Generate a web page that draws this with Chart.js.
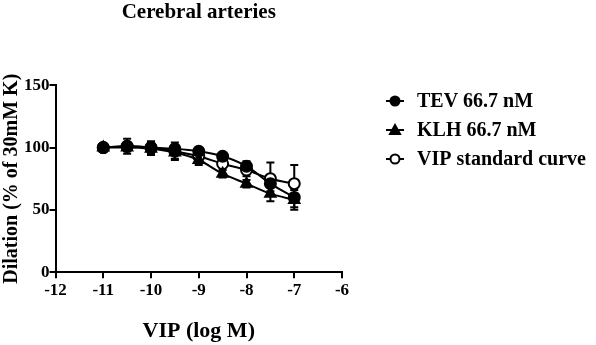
<!DOCTYPE html>
<html lang="en">
<head>
  <meta charset="UTF-8">
  <script src="https://cdn.jsdelivr.net/npm/chart.js"></script>
  <title>Cerebral arteries</title>
  <style>
    body { margin: 0; background: #fff; }
    #wrap { width: 596px; height: 345px; }
  </style>
</head>
<body>
<div id="wrap"><canvas id="vipChart"></canvas></div>
<script>
  // data
  const logDose = [-11, -10.5, -10, -9.5, -9, -8.5, -8, -7.5, -7];
  const xTicks = [-12, -11, -10, -9, -8, -7, -6];
  const yTicks = [0, 50, 100, 150];

  const tevMean = [100, 101, 100, 99, 97, 93, 85, 71, 60];
  const tevErr  = [0, 3, 4, 3, 3, 2, 4, 6, 8];
  const klhMean = [100, 100, 99, 96, 90, 79, 71, 63, 58];
  const klhErr  = [0, 3, 5, 5, 4, 3, 3, 6, 8];
  const vipMean = [100, 101, 100, 97, 93, 87, 82, 75, 71];
  const vipErr  = [0, 6, 5, 7, 4, 3, 5, 13, 15];

  const FONT = '"Liberation Serif", "Times New Roman", serif';

  function toPoints(mean) {
    return logDose.map((x, i) => ({ x: x, y: mean[i] }));
  }

  const seriesInfo = [
    { label: 'TEV 66.7 nM', mean: tevMean, err: tevErr, style: 'circle', fill: '#000' },
    { label: 'KLH 66.7 nM', mean: klhMean, err: klhErr, style: 'triangle', fill: '#000' },
    { label: 'VIP standard curve', mean: vipMean, err: vipErr, style: 'circle', fill: '#fff' }
  ];

  // error bars drawn through the scales
  const errorBars = {
    id: 'errorBars',
    beforeDatasetsDraw(chart) {
      const ctx = chart.ctx;
      const xs = chart.scales.x, ys = chart.scales.y;
      ctx.save();
      ctx.strokeStyle = '#000';
      ctx.lineWidth = 2;
      seriesInfo.forEach(s => {
        logDose.forEach((d, i) => {
          if (!s.err[i]) return;
          const px = xs.getPixelForValue(d);
          const top = ys.getPixelForValue(s.mean[i] + s.err[i]);
          const bot = ys.getPixelForValue(s.mean[i] - s.err[i]);
          ctx.beginPath();
          ctx.moveTo(px, top); ctx.lineTo(px, bot);
          ctx.moveTo(px - 4, top); ctx.lineTo(px + 4, top);
          ctx.moveTo(px - 4, bot); ctx.lineTo(px + 4, bot);
          ctx.stroke();
        });
      });
      ctx.restore();
    }
  };

  // legend to the right of the plot
  const sideLegend = {
    id: 'sideLegend',
    afterDraw(chart) {
      const ctx = chart.ctx;
      const x0 = 386;
      let y = 101;
      ctx.save();
      ctx.font = 'bold 20px ' + FONT;
      ctx.textBaseline = 'middle';
      ctx.fillStyle = '#000';
      seriesInfo.forEach(s => {
        ctx.strokeStyle = '#000';
        ctx.lineWidth = 2;
        ctx.beginPath();
        ctx.moveTo(x0, y); ctx.lineTo(x0 + 18, y);
        ctx.stroke();
        ctx.beginPath();
        if (s.style === 'triangle') {
          ctx.moveTo(x0 + 9, y - 5); ctx.lineTo(x0 + 14, y + 4); ctx.lineTo(x0 + 4, y + 4);
          ctx.closePath();
        } else {
          ctx.arc(x0 + 9, y, 4.5, 0, Math.PI * 2);
        }
        ctx.fillStyle = s.fill;
        ctx.fill();
        ctx.stroke();
        ctx.fillStyle = '#000';
        ctx.fillText(s.label, x0 + 31, y + 1);
        y += 29;
      });
      ctx.restore();
    }
  };

  new Chart(document.getElementById('vipChart'), {
    type: 'line',
    data: {
      datasets: seriesInfo.map(s => ({
        label: s.label,
        data: toPoints(s.mean),
        borderColor: '#000',
        borderWidth: 2,
        backgroundColor: s.fill,
        pointStyle: s.style,
        pointRadius: s.style === 'triangle' ? 6 : 5.5,
        pointBorderWidth: 2,
        pointBorderColor: '#000',
        pointBackgroundColor: s.fill,
        cubicInterpolationMode: 'monotone',
        fill: false
      }))
    },
    options: {
      responsive: true,
      maintainAspectRatio: false,
      animation: false,
      layout: { padding: { left: 0, right: 254, top: 0, bottom: 0 } },
      plugins: {
        legend: { display: false },
        tooltip: { enabled: false },
        title: {
          display: true,
          fullSize: false,
          text: 'Cerebral arteries',
          color: '#000',
          font: { family: FONT, size: 21, weight: 'bold' },
          padding: { top: 0, bottom: 60 }
        }
      },
      scales: {
        x: {
          type: 'linear',
          min: -12, max: -6,
          afterBuildTicks: axis => { axis.ticks = xTicks.map(v => ({ value: v })); },
          grid: { display: true, drawOnChartArea: false, drawTicks: true, tickLength: 6, color: '#000', lineWidth: 2 },
          border: { display: true, color: '#000', width: 2 },
          ticks: { color: '#000', font: { family: FONT, size: 17, weight: 'bold' }, padding: 2, maxRotation: 0 },
          title: {
            display: true, text: 'VIP (log M)', color: '#000',
            font: { family: FONT, size: 22, weight: 'bold' }, padding: { top: 16, bottom: 0 }
          }
        },
        y: {
          min: 0, max: 150,
          afterBuildTicks: axis => { axis.ticks = yTicks.map(v => ({ value: v })); },
          grid: { display: true, drawOnChartArea: false, drawTicks: true, tickLength: 6, color: '#000', lineWidth: 2 },
          border: { display: true, color: '#000', width: 2 },
          ticks: { color: '#000', font: { family: FONT, size: 17, weight: 'bold' }, padding: 0 },
          title: {
            display: true, text: 'Dilation (% of 30mM K)', color: '#000',
            font: { family: FONT, size: 20, weight: 'bold' }, padding: { top: 0, bottom: 0 }
          }
        }
      }
    },
    plugins: [errorBars, sideLegend]
  });
</script>
</body>
</html>
